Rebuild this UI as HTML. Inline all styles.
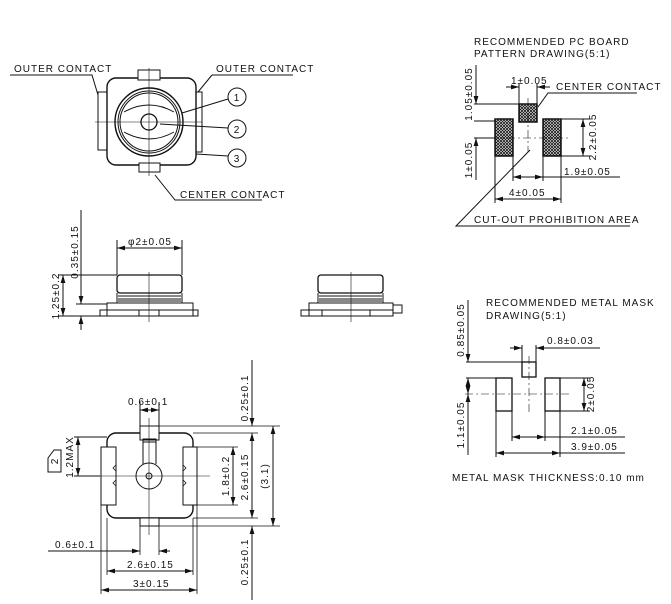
<!DOCTYPE html>
<html><head><meta charset="utf-8"><style>
html,body{margin:0;padding:0;background:#fff;}
svg{display:block}
text{font-family:"Liberation Sans",sans-serif;font-size:10px;fill:#111;letter-spacing:1px}
</style></head><body>
<svg width="671" height="604" viewBox="0 0 671 604" xmlns="http://www.w3.org/2000/svg">
<defs>
<marker id="a" viewBox="0 0 10 6" refX="10" refY="3" markerWidth="8" markerHeight="5" orient="auto-start-reverse"><path d="M0,0L10,3L0,6z" fill="#111"/></marker>
<pattern id="h" width="3" height="3" patternUnits="userSpaceOnUse"><rect width="3" height="3" fill="#fff"/><path d="M0,0L3,3M3,0L0,3" stroke="#111" stroke-width="0.8"/></pattern>
</defs>
<g fill="none" stroke="#111" stroke-width="1">
<rect x="107" y="78" width="89" height="87" rx="9" stroke-width="1.4"/>
<rect x="138" y="70" width="22" height="10" fill="#fff"/>
<rect x="139" y="163" width="21" height="9" fill="#fff"/>
<rect x="98" y="92" width="9" height="58"/>
<rect x="196" y="92" width="6" height="60"/>
<circle cx="149" cy="122" r="34" stroke-width="1.4"/>
<circle cx="149" cy="122" r="31"/>
<circle cx="149" cy="122" r="29"/>
<path d="M124,112 Q149,98 174,112 M124,132 Q149,146 174,132"/>
<circle cx="149" cy="122" r="8" stroke-width="1.3"/>
<path d="M95,122H202M149,68V176" stroke-width="0.6"/>
<path d="M10,75H92L98,95M212,75H293M212,75L198,92"/>
<circle cx="237" cy="97" r="9"/><circle cx="237" cy="129" r="9"/><circle cx="237" cy="158" r="9"/>
<path d="M228,99L182,113M228,128L160,124M228,156L196,154"/>
<path d="M262,200H175L155,175"/>
<rect x="117" y="275" width="65" height="18" rx="3" stroke-width="1.3"/>
<path d="M117,293V303H182V293M118,296H181M118,299H181M118,301H181"/>
<rect x="107" y="303" width="86" height="13"/>
<rect x="100" y="310" width="98" height="6"/>
<rect x="139" y="310" width="20" height="6"/>
<path d="M149,272V322" stroke-width="0.6"/>
<path d="M117,248H182" marker-start="url(#a)" marker-end="url(#a)"/>
<path d="M117,240V275M182,240V275"/>
<path d="M81,210V304" marker-end="url(#a)"/><path d="M81,330V316" marker-end="url(#a)"/>
<path d="M63,275V316" marker-start="url(#a)" marker-end="url(#a)"/>
<path d="M58,275H117M76,304H107M58,316H100"/>
<rect x="318" y="275" width="65" height="18" rx="3" stroke-width="1.3"/>
<path d="M318,293V303H383V293M319,296H382M319,299H382M319,301H382"/>
<rect x="309" y="303" width="84" height="13"/>
<rect x="301" y="310" width="92" height="6"/>
<rect x="393" y="305" width="9" height="8"/>
<rect x="322" y="310" width="48" height="6"/>
<path d="M351,272V322" stroke-width="0.6"/>
<rect x="107" y="433" width="86" height="85" rx="9" stroke-width="1.4"/>
<rect x="140" y="426" width="19" height="14" fill="#fff"/>
<rect x="143" y="439" width="13" height="3"/>
<rect x="140" y="518" width="19" height="8" fill="#fff"/>
<path d="M143,440V464M156,440V464"/>
<circle cx="149" cy="476" r="13" fill="#fff"/>
<circle cx="149" cy="476" r="3"/>
<rect x="101" y="447" width="15" height="58" fill="#fff"/>
<rect x="183" y="447" width="14" height="58" fill="#fff"/>
<path d="M116,465l-3,3 3,3M183,480l3,3-3,3M183,465l3,3-3,3M116,480l-3,3 3,3" stroke-width="0.8"/>
<path d="M149,418V535M85,476H210" stroke-width="0.6"/>
<path d="M140,410H159" marker-start="url(#a)" marker-end="url(#a)"/><path d="M140,402V426M159,402V426"/>
<path d="M78,437V476" marker-start="url(#a)" marker-end="url(#a)"/><path d="M74,437H107M74,476H100"/>
<path d="M48,458L54,450H61V472H48Z"/>
<path d="M252,360V426" marker-end="url(#a)"/><path d="M252,433V518" marker-start="url(#a)" marker-end="url(#a)"/><path d="M252,600V526" marker-end="url(#a)"/>
<path d="M273,426V526" marker-start="url(#a)" marker-end="url(#a)"/>
<path d="M233,447V505" marker-start="url(#a)" marker-end="url(#a)"/>
<path d="M159,426H280M193,433H258M193,518H258M159,526H280M197,447H238M197,505H238" stroke-width="0.8"/>
<path d="M48,551H140" marker-end="url(#a)"/><path d="M170,551H159" marker-end="url(#a)"/>
<path d="M107,571H193" marker-start="url(#a)" marker-end="url(#a)"/>
<path d="M101,590H197" marker-start="url(#a)" marker-end="url(#a)"/>
<path d="M101,505V594M107,518V575M193,518V575M197,505V594M140,526V555M159,526V555" stroke-width="0.8"/>
<rect x="519" y="104" width="18" height="18" fill="url(#h)" stroke-width="1.5"/>
<rect x="495" y="119" width="18" height="37" fill="url(#h)" stroke-width="1.5"/>
<rect x="543" y="119" width="18" height="37" fill="url(#h)" stroke-width="1.5"/>
<path d="M475,138H568M528,98V152" stroke-width="0.6" stroke-dasharray="8,3,2,3"/>
<path d="M506,87H519" marker-end="url(#a)"/><path d="M550,87H537" marker-end="url(#a)"/><path d="M519,84V104M537,84V104"/>
<path d="M637,93H548L538,107"/>
<path d="M476,65V104" marker-end="url(#a)"/><path d="M476,180V138" marker-end="url(#a)"/>
<path d="M474,104H519M474,121H495M474,138H495"/>
<path d="M583,119V156" marker-start="url(#a)" marker-end="url(#a)"/><path d="M561,119H590M561,156H590"/>
<path d="M513,177H543" marker-start="url(#a)" marker-end="url(#a)"/><path d="M543,177H620"/>
<path d="M495,199H561" marker-start="url(#a)" marker-end="url(#a)"/>
<path d="M513,156V181M543,156V181M495,156V203M561,156V203"/>
<path d="M630,226H456L530,150"/>
<rect x="522" y="362" width="14" height="15" stroke-width="1.3"/>
<rect x="496" y="378" width="16" height="33" stroke-width="1.3"/>
<rect x="545" y="378" width="15" height="33" stroke-width="1.3"/>
<path d="M465,394H570M529,356V414" stroke-width="0.6" stroke-dasharray="8,3,2,3"/>
<path d="M468,300V362" marker-end="url(#a)"/><path d="M468,455V394" marker-end="url(#a)"/>
<path d="M468,378V394" marker-start="url(#a)" marker-end="url(#a)"/>
<path d="M466,362H522M466,378H496"/>
<path d="M510,348H522" marker-end="url(#a)"/><path d="M600,348H536" marker-end="url(#a)"/><path d="M522,345V362M536,345V362"/>
<path d="M584,378V411" marker-start="url(#a)" marker-end="url(#a)"/><path d="M560,378H590M560,411H590"/>
<path d="M512,437H545" marker-start="url(#a)" marker-end="url(#a)"/><path d="M545,437H625"/>
<path d="M496,453H560" marker-start="url(#a)" marker-end="url(#a)"/><path d="M560,453H625"/>
<path d="M512,411V441M545,411V441M496,411V457M560,411V457"/>
</g>
<text x="14" y="72" font-size="9">OUTER CONTACT</text>
<text x="216" y="72" font-size="9">OUTER CONTACT</text>
<text x="237" y="101" text-anchor="middle" letter-spacing="0">1</text>
<text x="237" y="133" text-anchor="middle" letter-spacing="0">2</text>
<text x="237" y="162" text-anchor="middle" letter-spacing="0">3</text>
<text x="180" y="198" font-size="9">CENTER CONTACT</text>
<text x="128" y="245">φ2±0.05</text>
<text transform="translate(78,252) rotate(-90)" text-anchor="middle">0.35±0.15</text>
<text transform="translate(59,296) rotate(-90)" text-anchor="middle">1.25±0.2</text>
<text x="128" y="405">0.6±0.1</text>
<text transform="translate(73,457) rotate(-90)" text-anchor="middle" font-size="9" letter-spacing="0">1.2MAX</text>
<text transform="translate(58,461) rotate(-90)" text-anchor="middle" letter-spacing="0">2</text>
<text transform="translate(248,398) rotate(-90)" text-anchor="middle">0.25±0.1</text>
<text transform="translate(248,477) rotate(-90)" text-anchor="middle">2.6±0.15</text>
<text transform="translate(229,476) rotate(-90)" text-anchor="middle">1.8±0.2</text>
<text transform="translate(268,476) rotate(-90)" text-anchor="middle">(3.1)</text>
<text transform="translate(248,562) rotate(-90)" text-anchor="middle">0.25±0.1</text>
<text x="55" y="548">0.6±0.1</text>
<text x="127" y="568">2.6±0.15</text>
<text x="133" y="587">3±0.15</text>
<text x="474" y="45" font-size="11" letter-spacing="1.6">RECOMMENDED PC BOARD</text>
<text x="474" y="57" font-size="11" letter-spacing="1.6">PATTERN DRAWING(5:1)</text>
<text x="511" y="84" font-size="9">1±0.05</text>
<text x="556" y="90" font-size="9">CENTER CONTACT</text>
<text transform="translate(472,94) rotate(-90)" text-anchor="middle" font-size="9">1.05±0.05</text>
<text transform="translate(472,160) rotate(-90)" text-anchor="middle" font-size="9">1±0.05</text>
<text transform="translate(596,137) rotate(-90)" text-anchor="middle" font-size="9">2.2±0.05</text>
<text x="564" y="175" font-size="9">1.9±0.05</text>
<text x="509" y="196" font-size="9">4±0.05</text>
<text x="474" y="223" font-size="9" letter-spacing="0.6">CUT-OUT PROHIBITION AREA</text>
<text x="486" y="306" font-size="10" letter-spacing="0.8">RECOMMENDED METAL MASK</text>
<text x="486" y="319" font-size="10" letter-spacing="0.8">DRAWING(5:1)</text>
<text x="547" y="344" font-size="9">0.8±0.03</text>
<text transform="translate(464,330) rotate(-90)" text-anchor="middle" font-size="9">0.85±0.05</text>
<text transform="translate(464,425) rotate(-90)" text-anchor="middle" font-size="9">1.1±0.05</text>
<text transform="translate(594,394) rotate(-90)" text-anchor="middle" font-size="9">2±0.05</text>
<text x="571" y="434" font-size="9">2.1±0.05</text>
<text x="571" y="450" font-size="9">3.9±0.05</text>
<text x="452" y="481" font-size="9.5" letter-spacing="0.6">METAL MASK THICKNESS:0.10 mm</text>
</svg>
</body></html>
